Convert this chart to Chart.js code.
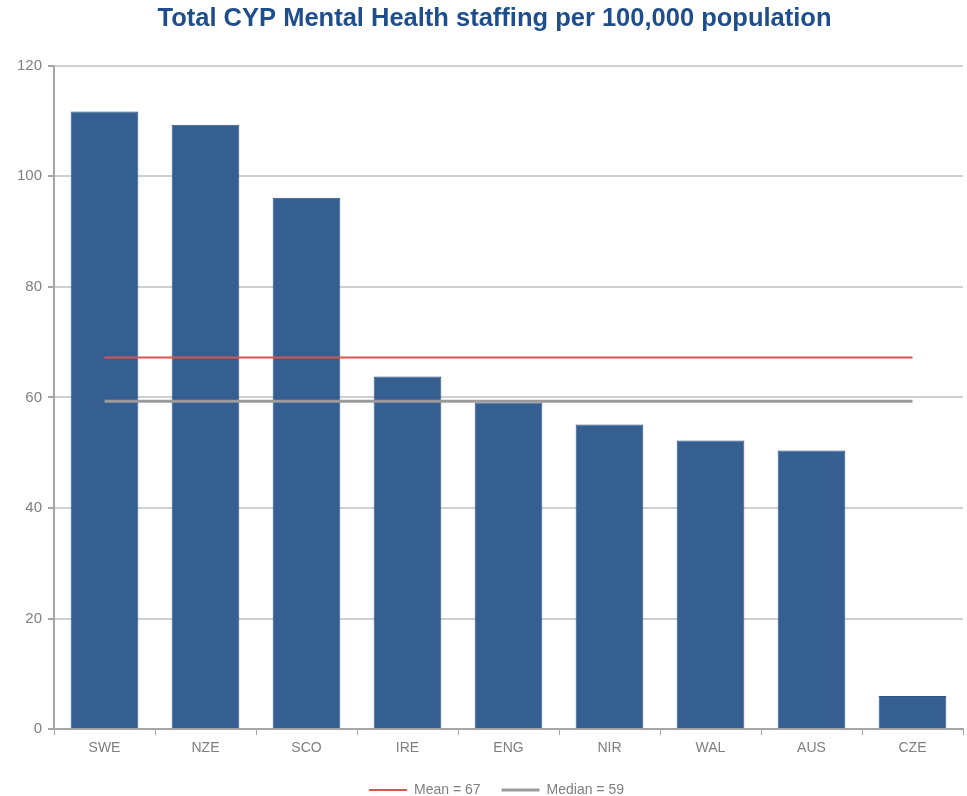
<!DOCTYPE html>
<html>
<head>
<meta charset="utf-8">
<script src="https://cdn.jsdelivr.net/npm/chart.js@4/dist/chart.umd.min.js"></script>
<style>
  html, body { margin: 0; padding: 0; background: #fff; }
  #wrap { width: 967px; height: 796px; position: relative; }
</style>
</head>
<body>
<div id="wrap"><canvas id="c"></canvas></div>
<script>
const categories = ["SWE", "NZE", "SCO", "IRE", "ENG", "NIR", "WAL", "AUS", "CZE"];
const staffing = [111.7, 109.3, 96.1, 63.8, 59.1, 55.1, 52.2, 50.4, 6.0];
const meanValue = 67;
const medianValue = 59;
const meanLine = [67.2, 67.2, 67.2, 67.2, 67.2, 67.2, 67.2, 67.2, 67.2];
const medianLine = [59.3, 59.3, 59.3, 59.3, 59.3, 59.3, 59.3, 59.3, 59.3];
const yTicks = [0, 20, 40, 60, 80, 100, 120];

const fontFam = "'Liberation Sans Narrow', 'Arial Narrow', 'Liberation Sans', Arial, sans-serif";

// shift the centring box of title and legend a little to the right (as in the reference)
const centreShift = {
  id: 'centreShift',
  afterLayout(chart) {
    if (chart.titleBlock) chart.titleBlock.left += 26;
    if (chart.legend) chart.legend.left += 30;
  }
};

new Chart(document.getElementById('c'), {
  data: {
    labels: categories,
    datasets: [
      {
        type: 'line',
        label: 'Mean = ' + meanValue,
        data: meanLine,
        borderColor: '#D9534F',
        backgroundColor: '#D9534F',
        borderWidth: 2,
        pointRadius: 0,
        order: 0
      },
      {
        type: 'line',
        label: 'Median = ' + medianValue,
        data: medianLine,
        borderColor: '#9B9B9B',
        backgroundColor: '#9B9B9B',
        borderWidth: 3,
        pointRadius: 0,
        order: 1
      },
      {
        type: 'bar',
        label: 'Staffing',
        data: staffing,
        backgroundColor: '#365F91',
        borderColor: '#2F5584',
        borderWidth: 1,
        categoryPercentage: 0.67,
        barPercentage: 1.0,
        order: 2
      }
    ]
  },
  plugins: [centreShift],
  options: {
    responsive: true,
    maintainAspectRatio: false,
    animation: false,
    layout: { padding: { left: 0, right: 4, top: 0, bottom: -11 } },
    plugins: {
      title: {
        display: true,
        text: 'Total CYP Mental Health staffing per 100,000 population',
        color: '#1F4E8C',
        font: { family: fontFam, size: 25.5, weight: 'bold' },
        padding: { top: 4, bottom: 31 }
      },
      legend: {
        position: 'bottom',
        labels: {
          filter: (item) => item.text !== 'Staffing',
          usePointStyle: true,
          pointStyle: 'line',
          pointStyleWidth: 38,
          boxHeight: 3,
          color: '#7F7F7F',
          font: { family: fontFam, size: 14 },
          padding: 21
        }
      },
      tooltip: { enabled: false }
    },
    scales: {
      x: {
        grid: {
          display: true,
          drawOnChartArea: false,
          drawTicks: true,
          tickLength: 6,
          color: '#A6A6A6',
          offset: true
        },
        border: { color: '#A6A6A6', width: 2 },
        ticks: {
          color: '#7F7F7F',
          font: { family: fontFam, size: 14 },
          padding: 5
        }
      },
      y: {
        min: 0,
        max: 120,
        afterFit: (s) => { s.width = 54; },
        afterBuildTicks: (s) => { s.ticks = yTicks.map(v => ({ value: v })); },
        grid: {
          color: '#D0D0D0',
          lineWidth: 2,
          tickLength: 6,
          tickColor: '#A6A6A6'
        },
        border: { color: '#A6A6A6', width: 2 },
        ticks: {
          color: '#7F7F7F',
          font: { family: fontFam, size: 15 },
          padding: 6
        }
      }
    }
  }
});
</script>
</body>
</html>
